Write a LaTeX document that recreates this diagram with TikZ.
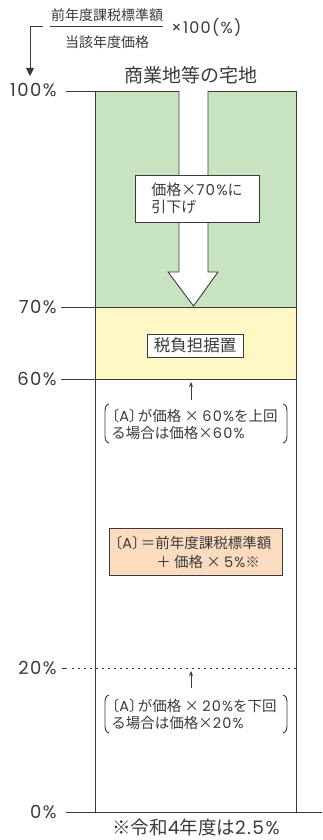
\documentclass[tikz,border=0pt]{standalone}
\usepackage{fontspec}
\setmainfont{Noto Sans CJK JP}
\newfontfamily\lat{Poppins}[LetterSpace=8]
\usetikzlibrary{arrows.meta}
\definecolor{ink}{HTML}{3A3A3A}
\definecolor{gfill}{HTML}{C8E3C0}
\definecolor{yfill}{HTML}{FFF8C4}
\definecolor{ofill}{HTML}{FCDCC0}
\newcommand\jlb{\hspace*{-.45em}〔}
\newcommand\jrb{〕\hspace{-.4em}}
\begin{document}
\begin{tikzpicture}[x=1pt,y=-1pt,line width=0.9pt,color=ink,
  lbl/.style={anchor=east,font=\lat\fontsize{18}{20}\selectfont,inner sep=0pt},
  jp/.style={font=\fontsize{14.5}{17}\selectfont,inner sep=0pt},
  region/.style={inner sep=0pt,anchor=north west,minimum width=201pt},
  tbox/.style={draw,fill=white,inner sep=0pt},
  uparrow/.style={-{Stealth[width=4pt,length=5pt]},line width=0.8pt}]
\useasboundingbox (0,0) rectangle (322,840);
% regions
\node[region,fill=gfill,minimum height=216pt] (green) at (95,91) {};
\node[region,fill=yfill,minimum height=72pt] (yellow) at (95,307) {};
% level lines and column
\draw (66,91) -- (296,91);
\draw (61,307) -- (296,307);
\draw (61,379) -- (296,379);
\draw (66,812) -- (322,812);
\draw (62,668) -- (67,668);
\draw[line width=0.8pt,dash pattern=on 1.5pt off 4.5pt] (72,668) -- (296,668);
\draw (95,91) -- (95,812);
\draw (296,91) -- (296,812);
% labels
\node[lbl] (p100) at (57,90) {100\%};
\node[lbl] (p70) at (57,307) {70\%};
\node[lbl] (p60) at (57,379) {60\%};
\node[lbl] (p20) at (57,668) {20\%};
\node[lbl] (p0) at (57,812) {0\%};
% fraction
\node[font=\fontsize{14}{15}\selectfont,inner sep=0pt] (num) at (107,15) {前年度課税標準額};
\node[font=\fontsize{14}{15}\selectfont,inner sep=0pt] (den) at (107,42) {当該年度価格};
\draw (50,26) -- (163,26);
\node[anchor=west,inner sep=0pt,font=\lat\fontsize{16}{18}\selectfont] (x100) at (171,28) {×100(\%)};
\coordinate (h0) at (43,26);
\coordinate (h1) at (30,26);
\coordinate (h2) at (30,76);
\draw[-{Triangle[width=8pt,length=8pt]}] (h0) -- (h1) -- (h2);
% title
\node[font=\fontsize{19}{20}\selectfont,inner sep=0pt] (title) at (191,75) {商業地等の宅地};
% big arrow
\draw[fill=white,line join=miter] (179,91) -- (179,272) -- (168,272) -- (193.5,306) -- (218,272) -- (208,272) -- (208,91);
\node[tbox,minimum width=124pt,minimum height=47pt] (down) at (197,198.5) {};
\node[jp,align=left,font=\fontsize{15}{17}\selectfont] (downtxt) at (197,198.5) {価格×{\lat 70\%}に\\引下げ};
% hold box
\node[tbox,minimum width=96pt,minimum height=23pt,font=\fontsize{16.5}{17}\selectfont] (hold) at (195,345.5) {税負担据置};
% upper rule
\coordinate (a1s) at (191,400);
\coordinate (a1e) at (191,382);
\draw[uparrow] (a1s) -- (a1e);
\draw (109,404) .. controls (105.5,405) and (105,408) .. (105,411) -- (105,436) .. controls (105,439) and (105.5,442) .. (109,443);
\draw (283,404) .. controls (286.5,405) and (287,408) .. (287,411) -- (287,436) .. controls (287,439) and (286.5,442) .. (283,443);
\node[jp,align=left,anchor=west] (c60) at (111,424.5) {\jlb{\lat A}\jrb が価格 × {\lat 60\%}を上回\\る場合は価格×{\lat 60\%}};
% A box
\node[region,draw,fill=ofill,minimum width=173pt,minimum height=47pt] (abox) at (109,528) {};
\node[jp,align=left,anchor=west,font=\fontsize{14.5}{19}\selectfont] (atext) at (114,552) {\jlb{\lat A}\jrb ＝前年度課税標準額\\\hspace*{42pt}＋ 価格 × {\lat 5\%}※};
% lower rule
\coordinate (a2s) at (191,688);
\coordinate (a2e) at (191,671);
\draw[uparrow] (a2s) -- (a2e);
\draw (109,695) .. controls (105.5,696) and (105,699) .. (105,702) -- (105,726) .. controls (105,729) and (105.5,732) .. (109,733);
\draw (283,695) .. controls (286.5,696) and (287,699) .. (287,702) -- (287,726) .. controls (287,729) and (286.5,732) .. (283,733);
\node[jp,align=left,anchor=west] (c20) at (111,714) {\jlb{\lat A}\jrb が価格 × {\lat 20\%}を下回\\る場合は価格×{\lat 20\%}};
% note
\node[font=\fontsize{18.5}{20}\selectfont,inner sep=0pt] (note) at (196,827) {※令和{\lat 4}年度は{\lat 2.5\%}};
\end{tikzpicture}
\end{document}
